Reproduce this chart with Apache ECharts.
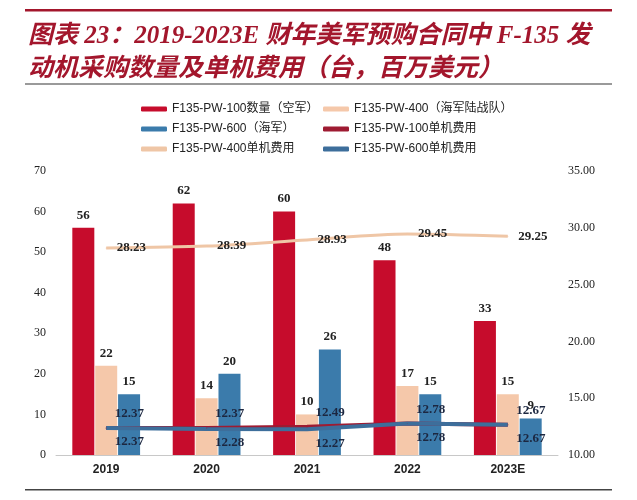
<!DOCTYPE html>
<html>
<head>
<meta charset="utf-8">
<script src="https://cdn.jsdelivr.net/npm/echarts@6/dist/echarts.min.js"></script>
<style>
html,body{margin:0;padding:0;background:#fff;}
#c{width:637px;height:500px;}
</style>
</head>
<body>
<div id="c"></div>
<script>
var categories = ['2019', '2020', '2021', '2022', '2023E'];
var qty100 = [56, 62, 60, 48, 33];
var qty400 = [22, 14, 10, 17, 15];
var qty600 = [15, 20, 26, 15, 9];
var cost100 = [12.37, 12.37, 12.49, 12.78, 12.67];
var cost400 = [28.23, 28.39, 28.93, 29.45, 29.25];
var cost600 = [12.37, 12.28, 12.27, 12.78, 12.67];
var leftTicks = { min: 0, max: 70, interval: 10 };
var rightTicks = { min: 10, max: 35, interval: 5 };

var names = ['F135-PW-100数量（空军）', 'F135-PW-400（海军陆战队）', 'F135-PW-600（海军）',
             'F135-PW-100单机费用', 'F135-PW-400单机费用', 'F135-PW-600单机费用'];
var colors = ['#C60C2C', '#F5C8AA', '#3B7BAB', '#9E1B32', '#EFC6A6', '#3D6E9B'];

var chart = echarts.init(document.getElementById('c'));
var serif = '"Liberation Serif","Times New Roman",serif';
var barLabel = { show: true, position: 'top', distance: 6, color: '#222', fontFamily: serif, fontWeight: 'bold', fontSize: 13 };
var lineLabel = { show: true, color: '#1c2740', fontFamily: serif, fontWeight: 'bold', fontSize: 13 };

function legendItems(list){ return list.map(function(i){ return { name: names[i], icon: 'roundRect' }; }); }
function fmt(p){ return p.value.toFixed(2); }

chart.setOption({
  animation: false,
  color: colors,
  graphic: [
    { type: 'rect', shape: { x: 25, y: 9, width: 587, height: 2.5 }, style: { fill: '#A3162C' } },
    { type: 'text', left: 28, top: 24, style: { text: '图表 23：2019-2023E 财年美军预购合同中 F-135 发', fill: '#A3162C',
      font: 'italic bold 25px "Liberation Serif","Noto Sans CJK SC",serif' } },
    { type: 'text', left: 28, top: 57, style: { text: '动机采购数量及单机费用（台，百万美元）', fill: '#A3162C',
      font: 'italic bold 25px "Liberation Serif","Noto Sans CJK SC",serif' } },
    { type: 'rect', shape: { x: 25, y: 83, width: 587, height: 2 }, style: { fill: '#9a9a9a' } },
    { type: 'rect', shape: { x: 25, y: 489, width: 587, height: 1.5 }, style: { fill: '#444' } }
  ],
  legend: [
    { orient: 'vertical', left: 136, top: 98, itemWidth: 26, itemHeight: 5, itemGap: 8,
      textStyle: { fontSize: 12, color: '#222', fontFamily: '"Liberation Sans","Noto Sans CJK SC",sans-serif' },
      data: legendItems([0, 2, 4]) },
    { orient: 'vertical', left: 318, top: 98, itemWidth: 26, itemHeight: 5, itemGap: 8,
      textStyle: { fontSize: 12, color: '#222', fontFamily: '"Liberation Sans","Noto Sans CJK SC",sans-serif' },
      data: legendItems([1, 3, 5]) }
  ],
  grid: { left: 56, right: 79, top: 171, bottom: 45, containLabel: false },
  xAxis: {
    type: 'category', data: categories,
    axisLine: { lineStyle: { color: '#c8c8c8', width: 1 } },
    axisTick: { show: false },
    axisLabel: { color: '#222', fontWeight: 'bold', fontSize: 12, margin: 9, fontFamily: '"Liberation Sans",Arial,sans-serif' }
  },
  yAxis: [
    { type: 'value', min: leftTicks.min, max: leftTicks.max, interval: leftTicks.interval,
      splitLine: { show: false }, axisLine: { show: false }, axisTick: { show: false },
      axisLabel: { color: '#222', fontSize: 12, fontFamily: serif, margin: 10 } },
    { type: 'value', min: rightTicks.min, max: rightTicks.max, interval: rightTicks.interval,
      splitLine: { show: false }, axisLine: { show: false }, axisTick: { show: false },
      axisLabel: { color: '#222', fontSize: 12, fontFamily: serif, margin: 10,
        formatter: function(v){ return v.toFixed(2); } } }
  ],
  series: [
    { name: names[0], type: 'bar', data: qty100, barWidth: 22, barGap: '4%', itemStyle: { color: colors[0] }, label: barLabel },
    { name: names[1], type: 'bar', data: qty400, barWidth: 22, barGap: '4%', itemStyle: { color: colors[1] }, label: barLabel },
    { name: names[2], type: 'bar', data: qty600, barWidth: 22, barGap: '4%', itemStyle: { color: colors[2] }, label: barLabel },
    { name: names[3], type: 'line', yAxisIndex: 1, data: cost100, symbol: 'circle', symbolSize: 1, showSymbol: true,
      lineStyle: { width: 4, color: colors[3] }, itemStyle: { color: colors[3] },
      labelLayout: { hideOverlap: false, dx: 2, dy: -14 },
      label: Object.assign({}, lineLabel, { position: 'right', distance: 6, formatter: fmt }) },
    { name: names[4], type: 'line', yAxisIndex: 1, data: cost400, symbol: 'circle', symbolSize: 1, showSymbol: true,
      smooth: 0.3, lineStyle: { width: 3, color: colors[4] }, itemStyle: { color: colors[4] },
      label: Object.assign({}, lineLabel, { color: '#222', position: 'right', distance: 10, formatter: fmt }) },
    { name: names[5], type: 'line', yAxisIndex: 1, data: cost600, symbol: 'circle', symbolSize: 1, showSymbol: true,
      lineStyle: { width: 4, color: colors[5] }, itemStyle: { color: colors[5] },
      labelLayout: { hideOverlap: false, dx: 2, dy: 14 },
      label: Object.assign({}, lineLabel, { position: 'right', distance: 6, formatter: fmt }) }
  ]
});
</script>
</body>
</html>
